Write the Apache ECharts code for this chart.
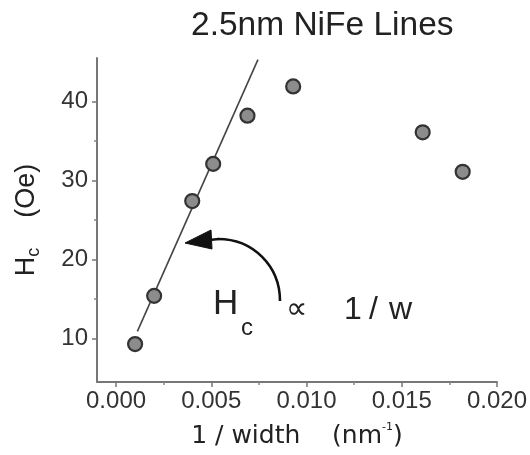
<!DOCTYPE html>
<html>
<head>
<meta charset="utf-8">
<script src="https://cdn.jsdelivr.net/npm/echarts@6/dist/echarts.min.js"></script>
<style>
  html, body { margin: 0; padding: 0; background: #fff; }
  #main { width: 530px; height: 455px; }
</style>
</head>
<body>
<div id="main"></div>
<script>
var chart = echarts.init(document.getElementById('main'));

// measured points: 1/width (nm^-1) vs Hc (Oe)
var invWidth = [0.0010, 0.0020, 0.0040, 0.0051, 0.0069, 0.0093, 0.0161, 0.0182];
var hc = [9.3, 15.4, 27.4, 32.1, 38.2, 41.9, 36.1, 31.1];
// linear fit line (two end points)
var fitX = [0.00112, 0.00745];
var fitY = [10.9, 45.3];
var xTicks = [0, 0.005, 0.010, 0.015, 0.020];
var xMinor = [0.0025, 0.0075, 0.0125, 0.0175];
var yTicks = [10, 20, 30, 40];
var yMinor = [15, 25, 35];

var FONT = 'Liberation Sans, Arial, sans-serif';
var WIDE = 'DejaVu Sans, sans-serif';
var points = invWidth.map(function (x, i) { return [x, hc[i]]; });
var fit = fitX.map(function (x, i) { return [x, fitY[i]]; });

var option = {
    backgroundColor: '#fff',
    animation: false,
    title: {
        text: '2.5nm NiFe Lines',
        left: 186,
        top: 4,
        textStyle: { fontFamily: FONT, fontSize: 33.5, fontWeight: 'normal', color: '#222' }
    },
    grid: { left: 97, right: 32, top: 58, bottom: 73, containLabel: false },
    xAxis: [
        {
            type: 'value', min: -0.001, max: 0.020,
            name: '{a|1 / width    (nm}{s|-1}{a|)}',
            nameLocation: 'middle', nameGap: 40,
            nameTextStyle: {
                rich: {
                    a: { fontFamily: WIDE, fontSize: 25, color: '#222', lineHeight: 28 },
                    s: { fontFamily: WIDE, fontSize: 11, color: '#222', verticalAlign: 'top', lineHeight: 28 }
                }
            },
            axisLine: { onZero: false, lineStyle: { color: '#777', width: 2 } },
            axisTick: { customValues: xTicks, length: 5, lineStyle: { color: '#777', width: 1.5 } },
            axisLabel: {
                customValues: xTicks, margin: 7,
                fontFamily: FONT, fontSize: 24, color: '#333',
                formatter: function (v) { return v.toFixed(3); }
            },
            splitLine: { show: false }
        },
        {
            type: 'value', min: -0.001, max: 0.020, position: 'bottom',
            axisLine: { show: false, onZero: false },
            axisTick: { customValues: xMinor, length: 3, lineStyle: { color: '#888', width: 1.5 } },
            axisLabel: { show: false },
            splitLine: { show: false }
        }
    ],
    yAxis: [
        {
            type: 'value', min: 4.5, max: 45.5,
            name: '{a|H}{b|c}{a|    (Oe)}',
            nameLocation: 'middle', nameGap: 54, nameRotate: 90,
            nameTextStyle: {
                rich: {
                    a: { fontFamily: FONT, fontSize: 27, color: '#222', lineHeight: 32 },
                    b: { fontFamily: FONT, fontSize: 18, color: '#222', verticalAlign: 'bottom', lineHeight: 32 }
                }
            },
            axisLine: { onZero: false, lineStyle: { color: '#777', width: 2 } },
            axisTick: { customValues: yTicks, length: 5, lineStyle: { color: '#777', width: 1.5 } },
            axisLabel: {
                customValues: yTicks, margin: 9,
                fontFamily: FONT, fontSize: 24, color: '#333'
            },
            splitLine: { show: false }
        },
        {
            type: 'value', min: 4.5, max: 45.5, position: 'left',
            axisLine: { show: false, onZero: false },
            axisTick: { customValues: yMinor, length: 3, lineStyle: { color: '#888', width: 1.5 } },
            axisLabel: { show: false },
            splitLine: { show: false }
        }
    ],
    series: [
        {
            type: 'line',
            data: fit,
            symbol: 'none',
            lineStyle: { color: '#444', width: 1.6 },
            z: 2
        },
        {
            type: 'scatter',
            data: points,
            symbol: 'circle',
            symbolSize: 14,
            itemStyle: { color: '#8c8c8c', borderColor: '#333', borderWidth: 2.2, opacity: 1 },
            z: 3
        }
    ],
    graphic: [
        {
            type: 'bezierCurve',
            shape: { x1: 280, y1: 301, cpx1: 280, cpy1: 266, cpx2: 253, cpy2: 239, x2: 218, y2: 239 },
            style: { fill: null, stroke: '#111', lineWidth: 2.6 }
        },
        {
            type: 'line',
            shape: { x1: 219, y1: 239, x2: 209, y2: 240 },
            style: { stroke: '#111', lineWidth: 2.6 }
        },
        {
            type: 'polygon',
            shape: { points: [[185, 243], [211, 230], [212, 249]] },
            style: { fill: '#111', stroke: '#111', lineWidth: 1 }
        },
        {
            type: 'text', x: 213, y: 287,
            style: { text: 'H', fontFamily: FONT, fontSize: 35, fill: '#222', verticalAlign: 'top' }
        },
        {
            type: 'text', x: 241, y: 316,
            style: { text: 'c', fontFamily: FONT, fontSize: 24, fill: '#222', verticalAlign: 'top' }
        },
        {
            type: 'text', x: 286, y: 310,
            style: { text: '\u221D', fontFamily: WIDE, fontSize: 30, fill: '#222', verticalAlign: 'middle' }
        },
        {
            type: 'text', x: 344, y: 294,
            style: { text: '1', fontFamily: FONT, fontSize: 32, fill: '#222', verticalAlign: 'top' }
        },
        {
            type: 'text', x: 369, y: 294,
            style: { text: '/', fontFamily: FONT, fontSize: 32, fill: '#222', verticalAlign: 'top' }
        },
        {
            type: 'text', x: 389, y: 294,
            style: { text: 'w', fontFamily: FONT, fontSize: 32, fill: '#222', verticalAlign: 'top' }
        }
    ]
};

chart.setOption(option);
</script>
</body>
</html>
